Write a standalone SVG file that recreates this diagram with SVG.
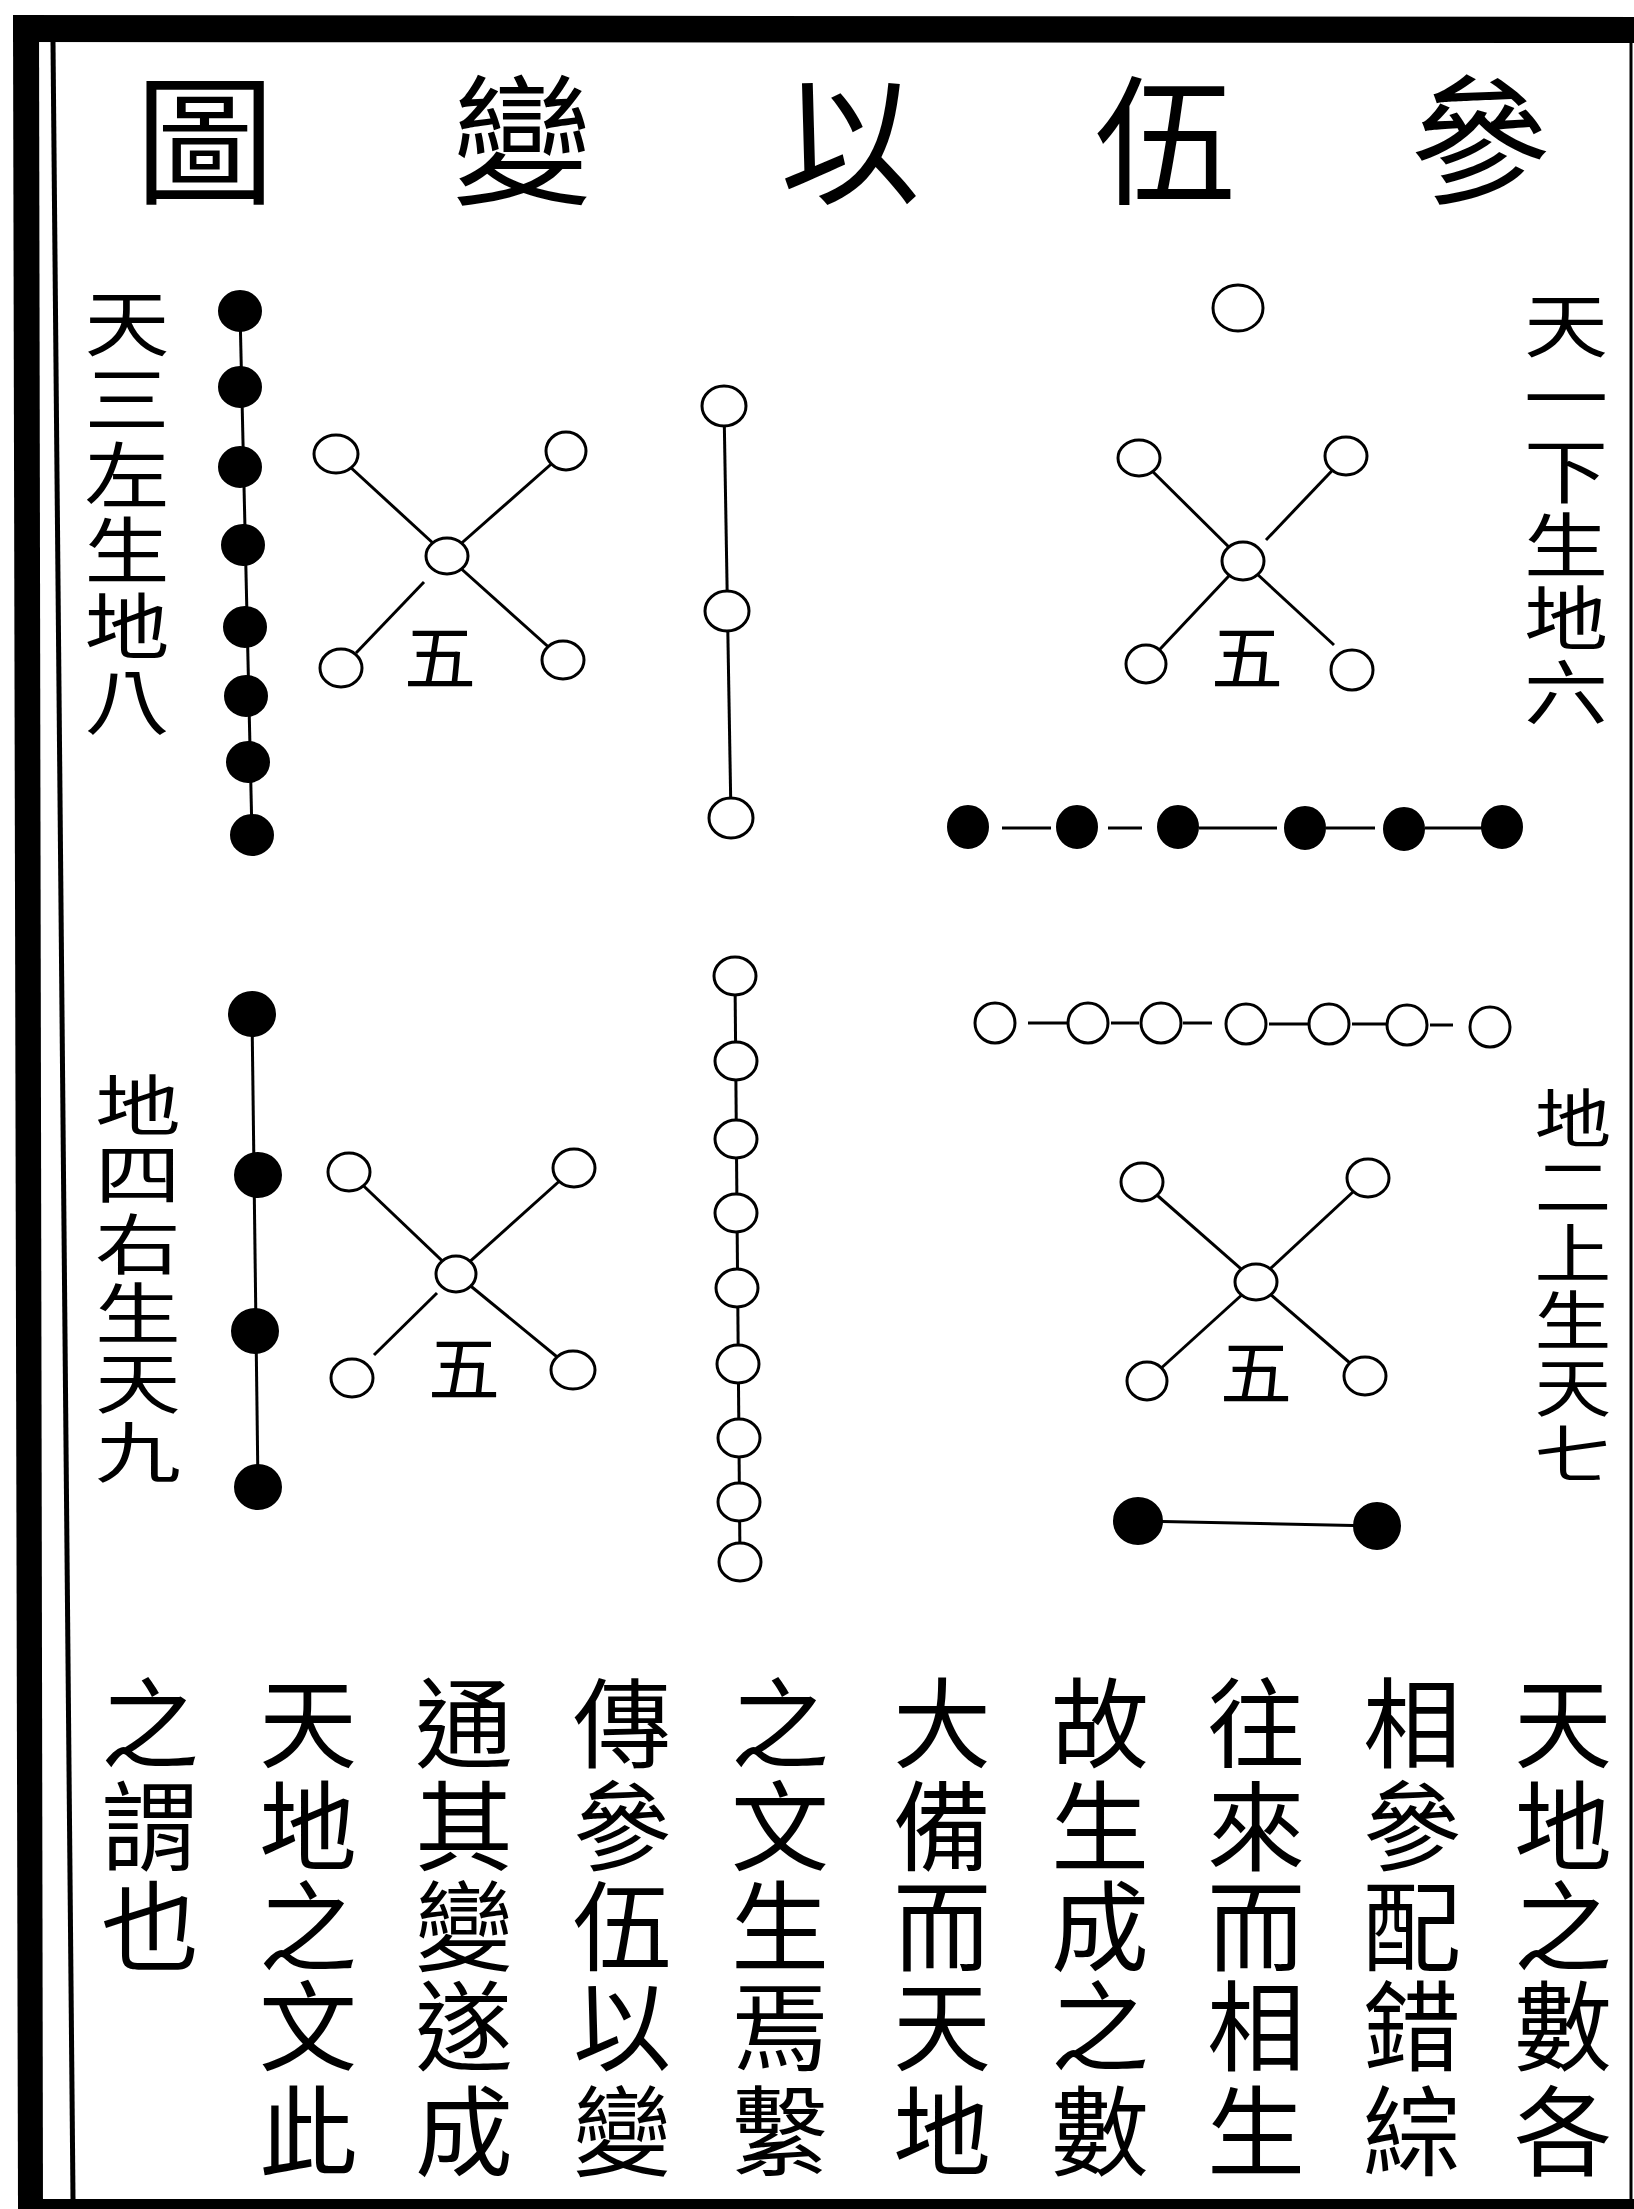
<svg xmlns="http://www.w3.org/2000/svg" width="1634" height="2209" viewBox="0 0 1634 2209">
<style>
.t{font-family:"Noto Sans CJK TC","Noto Sans CJK SC",sans-serif;fill:#000;text-anchor:middle;dominant-baseline:central}
.v{font-family:"Noto Sans CJK TC","Noto Sans CJK SC",sans-serif;fill:#000;writing-mode:vertical-rl;text-anchor:middle}
.title{font-size:140px}
.body{font-size:98px}
.s72{font-size:72px}
.s70{font-size:70px}
.s66{font-size:66px}
.s64{font-size:64px}
.five{font-size:72px}
.b{fill:#000;stroke:#000;stroke-width:2}
.w{fill:#fff;stroke:#000;stroke-width:3}
.ln{stroke:#000;stroke-width:3;fill:none}
</style>
<rect width="1634" height="2209" fill="#fff"/>
<g id="frame">
<polygon points="13,15 1634,17 1634,43 13,42" fill="#000"/>
<polygon points="13,15 39,15 43,2209 18,2209" fill="#000"/>
<line x1="53" y1="42" x2="73" y2="2199" stroke="#000" stroke-width="5"/>
<rect x="18" y="2199" width="1616" height="10" fill="#000"/>
<line x1="1631" y1="43" x2="1631" y2="2199" stroke="#000" stroke-width="3"/>
</g>
<g id="title">
<text class="t title" x="1480" y="132">參</text>
<text class="t title" x="1165" y="132">伍</text>
<text class="t title" x="850" y="132">以</text>
<text class="t title" x="522" y="132">變</text>
<text class="t title" x="205" y="132">圖</text>
</g>
<g id="label-tl" transform="translate(127 0) scale(1.18 1)">
<text class="v s72" x="0" y="323">天</text>
<text class="v s72" x="0" y="398.6">三</text>
<text class="v s72" x="0" y="474.2">左</text>
<text class="v s72" x="0" y="549.8">生</text>
<text class="v s72" x="0" y="625.4">地</text>
<text class="v s72" x="0" y="701">八</text>
</g>
<g id="label-tr" transform="translate(1566 0) scale(1.2 1)">
<text class="v s70" x="0" y="325">天</text>
<text class="v s70" x="0" y="398.4">一</text>
<text class="v s70" x="0" y="471.8">下</text>
<text class="v s70" x="0" y="545.2">生</text>
<text class="v s70" x="0" y="618.6">地</text>
<text class="v s70" x="0" y="692">六</text>
</g>
<g id="label-bl" transform="translate(138 0) scale(1.3 1)">
<text class="v s66" x="0" y="1105">地</text>
<text class="v s66" x="0" y="1174.4">四</text>
<text class="v s66" x="0" y="1243.8">右</text>
<text class="v s66" x="0" y="1313.2">生</text>
<text class="v s66" x="0" y="1382.6">天</text>
<text class="v s66" x="0" y="1452">九</text>
</g>
<g id="label-br" transform="translate(1573 0) scale(1.2 1)">
<text class="v s64" x="0" y="1118">地</text>
<text class="v s64" x="0" y="1185.2">二</text>
<text class="v s64" x="0" y="1252.4">上</text>
<text class="v s64" x="0" y="1319.6">生</text>
<text class="v s64" x="0" y="1386.8">天</text>
<text class="v s64" x="0" y="1454">七</text>
</g>
<g id="connectors">
<line class="ln" x1="240" y1="311" x2="252" y2="835"/>
<line class="ln" x1="724" y1="406" x2="731" y2="818"/>
<line class="ln" x1="336" y1="454" x2="447" y2="556"/>
<line class="ln" x1="566" y1="451" x2="447" y2="556"/>
<line class="ln" x1="447" y1="556" x2="563" y2="660"/>
<line class="ln" x1="424" y1="582" x2="356" y2="653"/>
<line class="ln" x1="1139" y1="458" x2="1243" y2="561"/>
<line class="ln" x1="1346" y1="456" x2="1266" y2="540"/>
<line class="ln" x1="1243" y1="561" x2="1146" y2="664"/>
<line class="ln" x1="1243" y1="561" x2="1334" y2="645"/>
<line class="ln" x1="1002" y1="828" x2="1051" y2="828"/>
<line class="ln" x1="1108" y1="828" x2="1142" y2="828"/>
<line class="ln" x1="1199" y1="828" x2="1277" y2="828"/>
<line class="ln" x1="1326" y1="828" x2="1375" y2="828"/>
<line class="ln" x1="1425" y1="828" x2="1484" y2="828"/>
<line class="ln" x1="252" y1="1014" x2="258" y2="1487"/>
<line class="ln" x1="349" y1="1172" x2="456" y2="1274"/>
<line class="ln" x1="574" y1="1168" x2="456" y2="1274"/>
<line class="ln" x1="456" y1="1274" x2="573" y2="1370"/>
<line class="ln" x1="437" y1="1293" x2="374" y2="1355"/>
<line class="ln" x1="735" y1="976" x2="740" y2="1562"/>
<line class="ln" x1="1028" y1="1023" x2="1067" y2="1023"/>
<line class="ln" x1="1111" y1="1023" x2="1139" y2="1023"/>
<line class="ln" x1="1183" y1="1023" x2="1212" y2="1023"/>
<line class="ln" x1="1269" y1="1024" x2="1308" y2="1024"/>
<line class="ln" x1="1352" y1="1024" x2="1386" y2="1024"/>
<line class="ln" x1="1430" y1="1025" x2="1453" y2="1025"/>
<line class="ln" x1="1142" y1="1182" x2="1256" y2="1282"/>
<line class="ln" x1="1368" y1="1178" x2="1256" y2="1282"/>
<line class="ln" x1="1256" y1="1282" x2="1147" y2="1381"/>
<line class="ln" x1="1256" y1="1282" x2="1365" y2="1376"/>
<line class="ln" x1="1138" y1="1521" x2="1377" y2="1526"/>
</g>
<g id="dots-tl">
<ellipse class="b" cx="240" cy="311" rx="21" ry="20"/>
<ellipse class="b" cx="240" cy="387" rx="21" ry="20"/>
<ellipse class="b" cx="240" cy="467" rx="21" ry="20"/>
<ellipse class="b" cx="243" cy="545" rx="21" ry="20"/>
<ellipse class="b" cx="245" cy="627" rx="21" ry="20"/>
<ellipse class="b" cx="246" cy="696" rx="21" ry="20"/>
<ellipse class="b" cx="248" cy="762" rx="21" ry="20"/>
<ellipse class="b" cx="252" cy="835" rx="21" ry="20"/>
</g>
<g id="circles-mid-top">
<ellipse class="w" cx="724" cy="406" rx="22" ry="20"/>
<ellipse class="w" cx="727" cy="611" rx="22" ry="20"/>
<ellipse class="w" cx="731" cy="818" rx="22" ry="20"/>
</g>
<g id="cross-tl">
<ellipse class="w" cx="336" cy="454" rx="22" ry="19"/>
<ellipse class="w" cx="566" cy="451" rx="20" ry="19"/>
<ellipse class="w" cx="447" cy="556" rx="21" ry="18"/>
<ellipse class="w" cx="341" cy="668" rx="21" ry="19"/>
<ellipse class="w" cx="563" cy="660" rx="21" ry="19"/>
<text class="t five" x="440" y="652">五</text>
</g>
<g id="single-tr">
<ellipse class="w" cx="1238" cy="308" rx="25" ry="23"/>
</g>
<g id="cross-tr">
<ellipse class="w" cx="1139" cy="458" rx="21" ry="18"/>
<ellipse class="w" cx="1346" cy="456" rx="21" ry="19"/>
<ellipse class="w" cx="1243" cy="561" rx="21" ry="19"/>
<ellipse class="w" cx="1146" cy="664" rx="20" ry="19"/>
<ellipse class="w" cx="1352" cy="670" rx="21" ry="20"/>
<text class="t five" x="1247" y="652">五</text>
</g>
<g id="dots-row">
<ellipse class="b" cx="968" cy="827" rx="20" ry="21"/>
<ellipse class="b" cx="1077" cy="827" rx="20" ry="21"/>
<ellipse class="b" cx="1178" cy="827" rx="20" ry="21"/>
<ellipse class="b" cx="1305" cy="828" rx="20" ry="21"/>
<ellipse class="b" cx="1404" cy="829" rx="20" ry="21"/>
<ellipse class="b" cx="1502" cy="827" rx="20" ry="21"/>
</g>
<g id="dots-bl">
<ellipse class="b" cx="252" cy="1014" rx="23" ry="22"/>
<ellipse class="b" cx="258" cy="1175" rx="23" ry="22"/>
<ellipse class="b" cx="255" cy="1331" rx="23" ry="22"/>
<ellipse class="b" cx="258" cy="1487" rx="23" ry="22"/>
</g>
<g id="cross-bl">
<ellipse class="w" cx="349" cy="1172" rx="21" ry="19"/>
<ellipse class="w" cx="574" cy="1168" rx="21" ry="19"/>
<ellipse class="w" cx="456" cy="1274" rx="20" ry="18"/>
<ellipse class="w" cx="352" cy="1378" rx="21" ry="19"/>
<ellipse class="w" cx="573" cy="1370" rx="22" ry="19"/>
<text class="t five" x="464" y="1363">五</text>
</g>
<g id="circles-mid-bottom">
<ellipse class="w" cx="735" cy="976" rx="21" ry="19"/>
<ellipse class="w" cx="736" cy="1061" rx="21" ry="19"/>
<ellipse class="w" cx="736" cy="1139" rx="21" ry="19"/>
<ellipse class="w" cx="736" cy="1213" rx="21" ry="19"/>
<ellipse class="w" cx="737" cy="1288" rx="21" ry="19"/>
<ellipse class="w" cx="738" cy="1364" rx="21" ry="19"/>
<ellipse class="w" cx="739" cy="1438" rx="21" ry="19"/>
<ellipse class="w" cx="739" cy="1502" rx="21" ry="19"/>
<ellipse class="w" cx="740" cy="1562" rx="21" ry="19"/>
</g>
<g id="circles-row">
<ellipse class="w" cx="995" cy="1023" rx="20" ry="20"/>
<ellipse class="w" cx="1088" cy="1023" rx="20" ry="20"/>
<ellipse class="w" cx="1161" cy="1023" rx="20" ry="20"/>
<ellipse class="w" cx="1246" cy="1024" rx="20" ry="20"/>
<ellipse class="w" cx="1329" cy="1024" rx="20" ry="20"/>
<ellipse class="w" cx="1407" cy="1025" rx="20" ry="20"/>
<ellipse class="w" cx="1490" cy="1027" rx="20" ry="20"/>
</g>
<g id="cross-br">
<ellipse class="w" cx="1142" cy="1182" rx="21" ry="19"/>
<ellipse class="w" cx="1368" cy="1178" rx="21" ry="19"/>
<ellipse class="w" cx="1256" cy="1282" rx="21" ry="18"/>
<ellipse class="w" cx="1147" cy="1381" rx="20" ry="19"/>
<ellipse class="w" cx="1365" cy="1376" rx="21" ry="19"/>
<text class="t five" x="1256" y="1367">五</text>
</g>
<g id="dots-pair">
<ellipse class="b" cx="1138" cy="1521" rx="24" ry="23"/>
<ellipse class="b" cx="1377" cy="1526" rx="23" ry="23"/>
</g>
<g id="body-text">
<text class="v body" x="1563" y="1723">天</text><text class="v body" x="1563" y="1826">地</text><text class="v body" x="1563" y="1926">之</text><text class="v body" x="1563" y="2026">數</text><text class="v body" x="1563" y="2131">各</text>
<text class="v body" x="1412" y="1723">相</text><text class="v body" x="1412" y="1826">參</text><text class="v body" x="1412" y="1926">配</text><text class="v body" x="1412" y="2026">錯</text><text class="v body" x="1412" y="2131">綜</text>
<text class="v body" x="1256" y="1723">往</text><text class="v body" x="1256" y="1826">來</text><text class="v body" x="1256" y="1926">而</text><text class="v body" x="1256" y="2026">相</text><text class="v body" x="1256" y="2131">生</text>
<text class="v body" x="1100" y="1723">故</text><text class="v body" x="1100" y="1826">生</text><text class="v body" x="1100" y="1926">成</text><text class="v body" x="1100" y="2026">之</text><text class="v body" x="1100" y="2131">數</text>
<text class="v body" x="942" y="1723">大</text><text class="v body" x="942" y="1826">備</text><text class="v body" x="942" y="1926">而</text><text class="v body" x="942" y="2026">天</text><text class="v body" x="942" y="2131">地</text>
<text class="v body" x="780" y="1723">之</text><text class="v body" x="780" y="1826">文</text><text class="v body" x="780" y="1926">生</text><text class="v body" x="780" y="2026">焉</text><text class="v body" x="780" y="2131">繫</text>
<text class="v body" x="622" y="1723">傳</text><text class="v body" x="622" y="1826">參</text><text class="v body" x="622" y="1926">伍</text><text class="v body" x="622" y="2026">以</text><text class="v body" x="622" y="2131">變</text>
<text class="v body" x="464" y="1723">通</text><text class="v body" x="464" y="1826">其</text><text class="v body" x="464" y="1926">變</text><text class="v body" x="464" y="2026">遂</text><text class="v body" x="464" y="2131">成</text>
<text class="v body" x="308" y="1723">天</text><text class="v body" x="308" y="1826">地</text><text class="v body" x="308" y="1926">之</text><text class="v body" x="308" y="2026">文</text><text class="v body" x="308" y="2131">此</text>
<text class="v body" x="150" y="1723">之</text><text class="v body" x="150" y="1826">謂</text><text class="v body" x="150" y="1926">也</text>
</g>
</svg>
